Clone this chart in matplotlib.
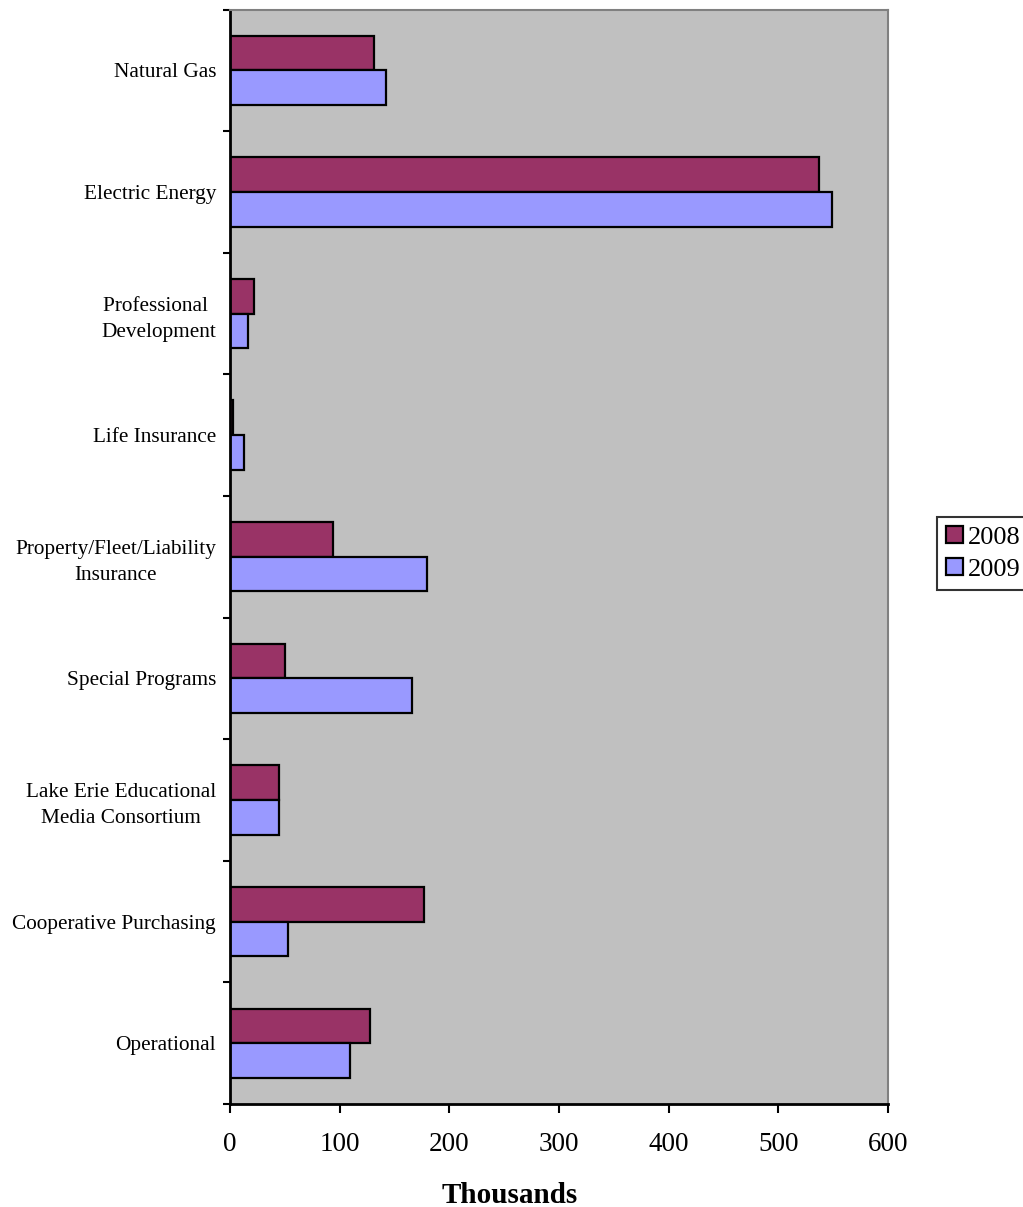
import numpy as np
import matplotlib.pyplot as plt

plt.rcParams['font.family'] = ['Liberation Serif', 'DejaVu Serif']

# data (thousands)
categories = ["Natural Gas", "Electric Energy", "Professional \nDevelopment",
              "Life Insurance", "Property/Fleet/Liability\nInsurance",
              "Special Programs", "Lake Erie Educational\nMedia Consortium",
              "Cooperative Purchasing", "Operational"]
values_2008 = [131, 537, 22, 2.5, 94, 50, 45, 177, 128]
values_2009 = [142, 549, 16, 13, 180, 166, 44.5, 53, 109]
series_names = ["2008", "2009"]
x_ticks = [0, 100, 200, 300, 400, 500, 600]

fig = plt.figure(figsize=(10.23, 12.07), dpi=100)
ax = fig.add_axes([230/1023, 1 - 1104/1207, (888-230)/1023, (1104-9.5)/1207])

pos = np.arange(len(categories))
h = 0.285
ax.barh(pos - h/2, values_2008, height=h, color='#993366', edgecolor='black',
        linewidth=1.6, label=series_names[0])
ax.barh(pos + h/2, values_2009, height=h, color='#9999FF', edgecolor='black',
        linewidth=1.6, label=series_names[1])

ax.set_facecolor('#C0C0C0')
ax.set_xlim(0, 600)
ax.set_ylim(len(categories) - 0.5, -0.5)

ax.set_xticks(x_ticks)
ax.set_xticklabels([str(t) for t in x_ticks], fontsize=19.5)
ax.set_yticks(np.arange(len(categories) + 1) - 0.5)
ax.set_yticklabels([])
ax.set_yticks(pos, minor=True)
ax.set_yticklabels(categories, minor=True, fontsize=15.3,
                   multialignment='center', linespacing=1.5)
ax.tick_params(axis='y', which='minor', length=0, pad=10)
ax.tick_params(axis='y', which='major', direction='out', length=5, width=1.5)
ax.tick_params(axis='x', which='major', direction='out', length=6.5, width=1.5,
               pad=14)

for s in ['left', 'bottom']:
    ax.spines[s].set_linewidth(2)
    ax.spines[s].set_color('black')
for s in ['top', 'right']:
    ax.spines[s].set_linewidth(1.5)
    ax.spines[s].set_color('#808080')

fig.text(510/1023, 1 - 1203/1207, "Thousands", ha='center', va='baseline',
         fontsize=21, fontweight='bold')

leg = fig.legend(loc='upper left', bbox_to_anchor=(937/1023, 1 - 517/1207),
                 fontsize=19, frameon=True, fancybox=False, edgecolor='black',
                 handlelength=0.64, handleheight=0.64, handletextpad=0.2,
                 borderpad=0.34, labelspacing=0.34, borderaxespad=0)
leg.get_frame().set_linewidth(1.5)

fig.savefig("out.png", dpi=100)
